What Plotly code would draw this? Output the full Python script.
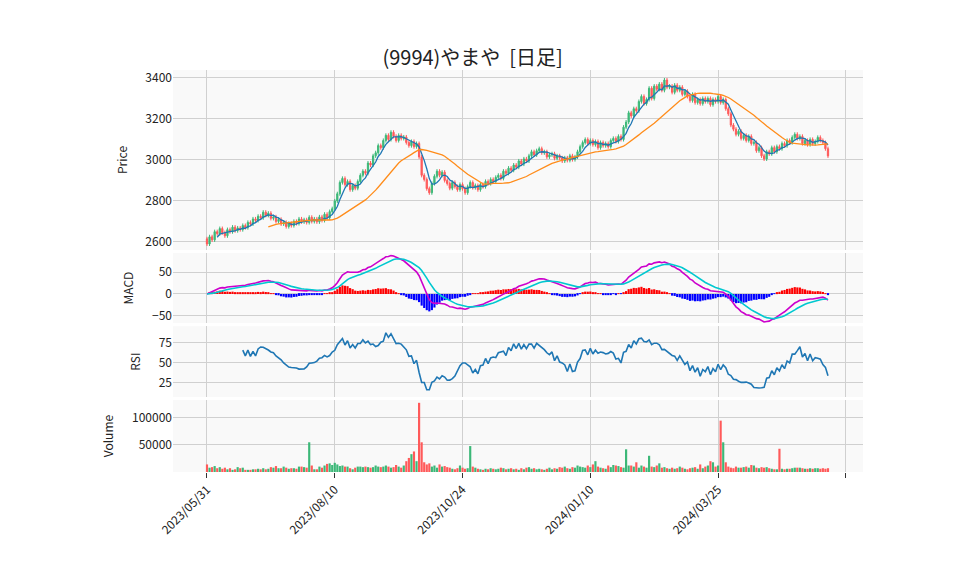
import numpy as np
import pandas as pd
import plotly.graph_objects as go
from plotly.subplots import make_subplots

close = [2590,2625,2610,2650,2640,2665,2645,2630,2660,2650,
2672,2655,2668,2660,2680,2670,2695,2688,2712,2705,
2725,2718,2745,2730,2740,2715,2722,2700,2710,2688,
2695,2675,2690,2680,2700,2690,2712,2698,2708,2695,
2720,2700,2712,2698,2722,2705,2735,2718,2748,2762,
2800,2835,2890,2910,2880,2895,2855,2875,2862,2895,
2925,2945,2935,2985,2975,3020,3035,3070,3060,3095,
3120,3100,3135,3115,3095,3120,3105,3112,3085,3070,
3090,3065,3080,3015,2925,2905,2860,2840,2885,2920,
2945,2925,2940,2900,2885,2862,2890,2870,2855,2880,
2860,2840,2870,2890,2865,2875,2855,2880,2870,2895,
2885,2905,2895,2915,2925,2910,2945,2935,2960,2950,
2975,2965,2995,2980,3005,2995,3020,3040,3025,3045,
3055,3035,3040,3015,3025,3030,3008,3020,3010,2995,
3010,2998,3020,3002,3015,3040,3065,3085,3100,3080,
3095,3075,3090,3060,3085,3070,3080,3065,3095,3105,
3090,3115,3100,3160,3185,3230,3215,3250,3240,3285,
3310,3275,3295,3350,3300,3360,3345,3370,3340,3390,
3355,3360,3330,3365,3340,3355,3320,3335,3310,3290,
3320,3280,3295,3275,3300,3285,3300,3270,3295,3285,
3310,3280,3295,3250,3225,3170,3150,3125,3140,3105,
3120,3095,3115,3080,3085,3045,3060,3020,3005,3040,
3030,3060,3040,3065,3055,3080,3070,3095,3085,3110,
3125,3105,3115,3080,3095,3075,3100,3080,3090,3110,
3095,3085,3055,3020]

volume = [14000,8000,9000,11000,7000,9000,6000,8000,5000,7000,
4000,5000,9000,7000,8000,4000,4000,4000,5000,5000,
6000,5000,7000,5000,6000,9000,8000,11000,7000,7000,
10000,8000,6000,7000,7000,6000,10000,10000,9000,8000,
55000,12000,5000,5000,10000,8000,12000,15000,16000,13000,
17000,14000,11000,12000,10000,10000,7000,5000,8000,10000,
10000,9000,10000,9000,8000,9000,12000,10000,9000,10000,
12000,10000,8000,9000,13000,10000,8000,12000,20000,26000,
33000,38000,20000,128000,55000,18000,14000,16000,10000,12000,
8000,14000,10000,11000,9000,8000,6000,5000,7000,12000,
8000,6000,7000,48000,10000,8000,6000,5000,4000,6000,
5000,7000,6000,5000,6000,8000,7000,5000,6000,7000,
5000,6000,4000,7000,5000,8000,9000,6000,7000,5000,
6000,5000,4000,6000,8000,5000,7000,6000,9000,8000,
10000,7000,6000,9000,8000,12000,10000,9000,8000,12000,
9000,14000,20000,10000,8000,7000,6000,12000,9000,13000,
12000,11000,9000,8000,42000,12000,12000,10000,18000,8000,
12000,10000,8000,30000,10000,9000,12000,16000,8000,9000,
7000,6000,8000,6000,7000,10000,8000,6000,5000,7000,
8000,9000,6000,14000,7000,10000,12000,20000,18000,10000,
12000,95000,55000,18000,10000,8000,7000,10000,8000,8000,
9000,10000,8000,13000,12000,8000,7000,9000,8000,9000,
7000,6000,5000,5000,43000,6000,5000,6000,6000,7000,
8000,8000,8000,7000,6000,6000,7000,6000,7000,7000,
6000,7000,6000,7000]

tick_vals = [0, 50, 100, 150, 200, 250]
tick_text = ["2023/05/31", "2023/08/10", "2023/10/24", "2024/01/10", "2024/03/25", ""]

c = pd.Series(close, dtype=float)
o = c.shift(1).fillna(c.iloc[0] + 25)
hi = np.maximum(o, c) + 10
lo = np.minimum(o, c) - 10
x = np.arange(len(c))

ma5 = c.rolling(5).mean()
ma25 = c.rolling(25).mean()
ema12 = c.ewm(span=12, adjust=False).mean()
ema26 = c.ewm(span=26, adjust=False).mean()
macd = ema12 - ema26
sig = macd.ewm(span=9, adjust=False).mean()
hist = macd - sig
d = c.diff()
gain = d.clip(lower=0).rolling(14).mean()
loss = (-d.clip(upper=0)).rolling(14).mean()
rsi = 100 - 100 / (1 + gain / loss)

UP, DN = "#3cb878", "#ff5a5a"
fig = make_subplots(rows=4, cols=1, shared_xaxes=True, vertical_spacing=0.008,
                    row_heights=[0.448, 0.174, 0.176, 0.179])
fig.add_trace(go.Candlestick(x=x, open=o, high=hi, low=lo, close=c,
    increasing=dict(line=dict(color=UP, width=1), fillcolor=UP),
    decreasing=dict(line=dict(color=DN, width=1), fillcolor=DN), whiskerwidth=0), row=1, col=1)
fig.add_trace(go.Scatter(x=x, y=ma5, mode="lines", line=dict(color="#1f77b4", width=1.3)), row=1, col=1)
fig.add_trace(go.Scatter(x=x, y=ma25, mode="lines", line=dict(color="#ff8c1a", width=1.3)), row=1, col=1)
fig.add_trace(go.Bar(x=x, y=hist, marker=dict(color=np.where(hist >= 0, "red", "blue"), line_width=0)), row=2, col=1)
fig.add_trace(go.Scatter(x=x, y=macd, mode="lines", line=dict(color="#cc00cc", width=1.6)), row=2, col=1)
fig.add_trace(go.Scatter(x=x, y=sig, mode="lines", line=dict(color="#00c8d0", width=1.6)), row=2, col=1)
fig.add_trace(go.Scatter(x=x, y=rsi, mode="lines", line=dict(color="#1f77b4", width=1.6)), row=3, col=1)
vcol = np.where(c >= o, UP, DN)
fig.add_trace(go.Bar(x=x, y=volume, marker=dict(color=vcol, line_width=0)), row=4, col=1)

fig.update_layout(width=958, height=575, showlegend=False, bargap=0.15,
    paper_bgcolor="white", plot_bgcolor="#f9f9f9",
    margin=dict(l=165, r=103, t=62, b=111),
    font=dict(family="Noto Sans CJK JP, Noto Sans", size=12, color="#222"),
    title=dict(text="(9994)やまや  [日足]", x=0.485, xanchor="center", y=0.925, font=dict(size=20)))
grid = "#d0d0d0"
for r in range(1, 5):
    fig.update_xaxes(row=r, col=1, range=[-13.3, 256.7], tickvals=tick_vals, ticktext=tick_text,
                     showgrid=True, gridcolor=grid, zeroline=False, rangeslider_visible=False,
                     showticklabels=(r == 4))
    fig.update_yaxes(row=r, col=1, showgrid=True, gridcolor=grid, zeroline=False, title_font=dict(size=12))
fig.update_xaxes(row=4, col=1, tickangle=-45, ticks="outside", ticklen=5, tickcolor="#333")
fig.update_yaxes(row=1, col=1, range=[2561, 3439], tickvals=[2600, 2800, 3000, 3200, 3400], title_text="Price")
fig.update_yaxes(row=2, col=1, range=[-66, 93], tickvals=[-50, 0, 50], title_text="MACD")
fig.update_yaxes(row=3, col=1, range=[7.5, 96], tickvals=[25, 50, 75], title_text="RSI")
fig.update_yaxes(row=4, col=1, range=[0, 133000], tickvals=[50000, 100000], tickformat="d", title_text="Volume")
fig.write_html("out.html")
